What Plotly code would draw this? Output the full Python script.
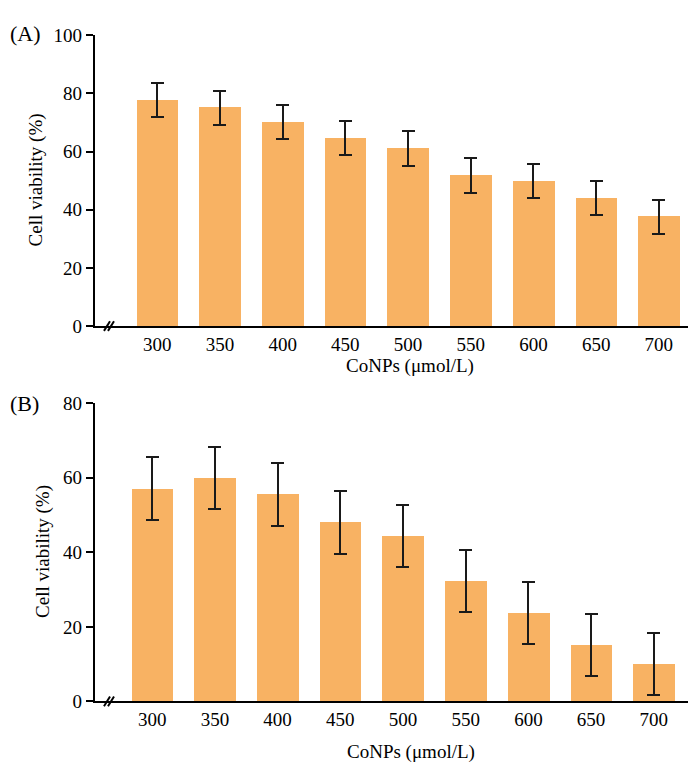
import plotly.graph_objects as go

# concentrations (umol/L)
conc = ["300", "350", "400", "450", "500", "550", "600", "650", "700"]

# panel A: cell viability (%) and error
via_a = [77.7, 75.1, 70.0, 64.6, 61.1, 51.8, 49.9, 44.1, 37.6]
err_a = [5.8, 5.85, 5.85, 5.8, 5.95, 5.9, 5.85, 5.8, 5.85]

# panel B: cell viability (%) and error
via_b = [57.0, 59.9, 55.5, 48.0, 44.3, 32.3, 23.7, 15.2, 10.1]
err_b = [8.45, 8.3, 8.4, 8.35, 8.35, 8.3, 8.35, 8.35, 8.25]

W, H = 696, 767
FONT = "Liberation Serif"
BAR = "#F8B263"


def px(x):
    return x / W


def py(y):
    return 1 - y / H


fig = go.Figure()

for via, err, xa, ya in [(via_a, err_a, "x", "y"), (via_b, err_b, "x2", "y2")]:
    fig.add_trace(go.Bar(
        x=conc, y=via, xaxis=xa, yaxis=ya,
        marker=dict(color=BAR, line=dict(width=0)),
        width=0.665,
        error_y=dict(type="data", array=err, color="#1a1a1a",
                     thickness=2, width=6.5),
        showlegend=False,
    ))

axis_font = dict(family=FONT, size=19, color="black")

fig.update_layout(
    width=W, height=H,
    margin=dict(l=0, r=0, t=0, b=0),
    paper_bgcolor="white", plot_bgcolor="white",
    font=dict(family=FONT, color="black"),
    bargap=0,
    xaxis=dict(domain=[px(86.7), 1.0], anchor="y", type="category",
               range=[-0.997, 8.72], showline=True, linecolor="black",
               linewidth=2, ticks="", tickfont=axis_font, showgrid=False,
               zeroline=False, ticklabelstandoff=0),
    yaxis=dict(domain=[py(316.7), py(17.7)], anchor="x", range=[0, 100],
               tickvals=[0, 20, 40, 60, 80, 100], showline=True,
               linecolor="black", linewidth=2, ticks="outside", ticklen=7,
               tickwidth=2, tickcolor="black", tickfont=axis_font,
               showgrid=False, zeroline=False, ticklabelstandoff=0),
    xaxis2=dict(domain=[px(86.7), px(690)], anchor="y2", type="category",
                range=[-0.917, 8.705], showline=True, linecolor="black",
                linewidth=2, ticks="", tickfont=axis_font, showgrid=False,
                zeroline=False, ticklabelstandoff=0),
    yaxis2=dict(domain=[py(702.7), py(396)], anchor="x2", range=[0, 80],
                tickvals=[0, 20, 40, 60, 80], showline=True,
                linecolor="black", linewidth=2, ticks="outside", ticklen=7,
                tickwidth=2, tickcolor="black", tickfont=axis_font,
                showgrid=False, zeroline=False, ticklabelstandoff=0),
)

title_font = dict(family=FONT, size=19, color="black")
ann = [
    dict(text="(A)", x=px(0), y=py(16), xanchor="left", yanchor="middle",
         font=dict(family=FONT, size=22, color="black")),
    dict(text="(B)", x=px(0), y=py(396), xanchor="left", yanchor="middle",
         font=dict(family=FONT, size=22, color="black")),
    dict(text="Cell viability (%)", x=px(28), y=py(167), textangle=-90,
         xanchor="center", yanchor="middle", font=title_font),
    dict(text="Cell viability (%)", x=px(35), y=py(549), textangle=-90,
         xanchor="center", yanchor="middle", font=title_font),
    dict(text="CoNPs (μmol/L)", x=px(402), y=py(358), xanchor="center",
         yanchor="middle", font=title_font),
    dict(text="CoNPs (μmol/L)", x=px(403), y=py(755), xanchor="center",
         yanchor="middle", font=title_font),
]
for a in ann:
    a.update(xref="paper", yref="paper", showarrow=False)
fig.update_layout(annotations=ann)

# axis break marks "//" near the origin of each panel
shapes = []
for y0 in (316.7, 702.7):
    for dx in (0, 4):
        shapes.append(dict(type="line", xref="paper", yref="paper",
                           x0=px(96 + dx), y0=py(y0 + 5),
                           x1=px(102 + dx), y1=py(y0 - 5),
                           line=dict(color="black", width=2)))
fig.update_layout(shapes=shapes)

fig.write_html("out.html")
